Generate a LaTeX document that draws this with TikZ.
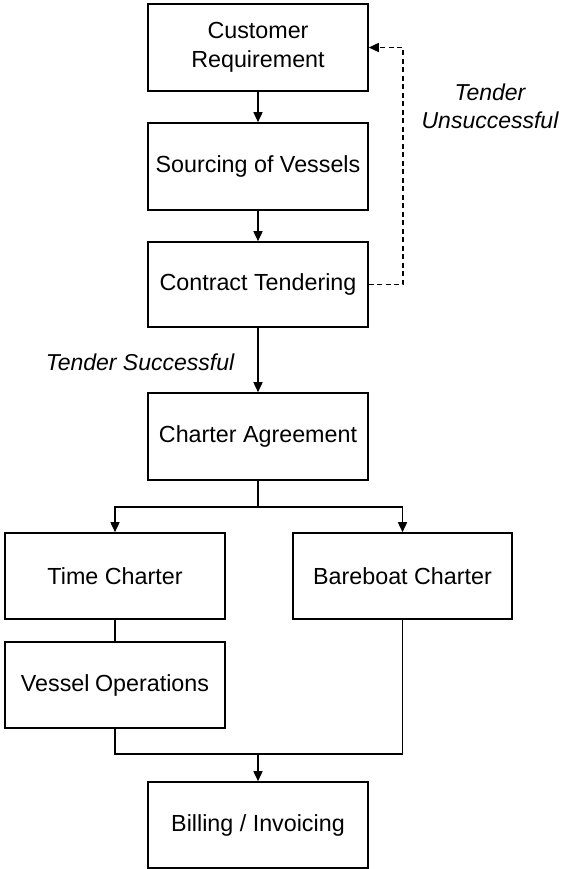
\documentclass[tikz,border=0pt]{standalone}
\usepackage{fontspec}
\setmainfont{Liberation Sans}
\usetikzlibrary{arrows.meta}
\begin{document}
\begin{tikzpicture}[x=1pt,y=-1pt,
  box/.style={draw,line width=1.6pt,minimum width=220pt,minimum height=86pt,inner sep=2pt,align=center,font=\fontsize{23.3}{28.5}\selectfont},
  conn/.style={line width=1.6pt},
  arr/.style={conn,-{Triangle[length=10pt,width=9pt]}},
  lbl/.style={font=\fontsize{23}{28}\selectfont\itshape,align=center}]
\useasboundingbox (0,0) rectangle (561,869);
\node[box,minimum height=87pt] (cr) at (258,47.5) {Customer\\Requirement};
\node[box,minimum height=87pt] (sv) at (258,166.5) {Sourcing of Vessels};
\node[box,minimum height=85pt] (ct) at (258,284.5) {Contract Tendering};
\node[box,minimum height=87pt] (ca) at (258,436.5) {Charter Agreement};
\node[box] (tc) at (115,576) {Time Charter};
\node[box,minimum width=219pt] (bc) at (402.5,576) {Bareboat Charter};
\node[box] (vo) at (115,685) {Vessel\kern-1pt\ Operations};
\node[box] (bi) at (258,825) {Billing / Invoicing};
\coordinate (j1) at (258,507);
\coordinate (j2) at (258,754);
\coordinate (dd) at (403,284.5);
\node[lbl] (ts) at (140,362) {Tender Successful};
\node[lbl] (tu) at (490,106) {Tender\\Unsuccessful};
\draw[arr] (cr) -- (sv);
\draw[arr] (sv) -- (ct);
\draw[arr] (ct) -- (ca);
\draw[conn] (ca.south) -- (j1);
\draw[arr] (j1) -| (tc.north);
\draw[arr] (j1) -| (bc.north);
\draw[conn] (tc) -- (vo);
\draw[conn] (vo.south) |- (j2) -| (bc.south);
\draw[arr] (j2) -- (bi.north);
\draw[conn,dash pattern=on 5pt off 3.5pt,-{Triangle[length=10pt,width=9pt]}] (ct.east) -- (dd) |- (cr.east);
\end{tikzpicture}
\end{document}
